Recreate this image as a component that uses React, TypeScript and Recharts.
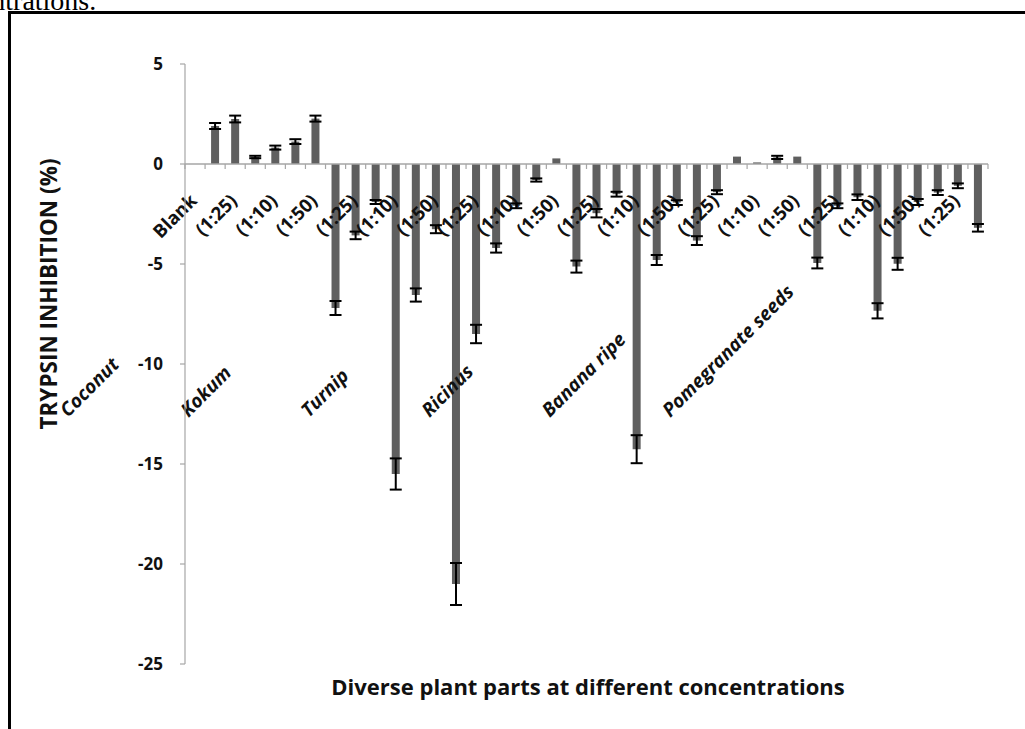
import React from 'react';
import { BarChart, Bar, XAxis, YAxis, ErrorBar, ReferenceLine } from 'recharts';

// Category tick labels (only every second category carries a label in the reference)
const categories: string[] = [
  'Blank', '', '(1:25)', '', '(1:10)', '', '(1:50)', '', '(1:25)', '',
  '(1:10)', '', '(1:50)', '', '(1:25)', '', '(1:10)', '', '(1:50)', '',
  '(1:25)', '', '(1:10)', '', '(1:50)', '', '(1:25)', '', '(1:10)', '',
  '(1:50)', '', '(1:25)', '', '(1:10)', '', '(1:50)', '', '(1:25)', '',
];

// Plant group names and the category each one is hung from
const groupNames: string[] = ['Coconut', 'Kokum', 'Turnip', 'Ricinus', 'Banana ripe', 'Pomegranate seeds'];
const groupAnchors: number[] = [0, 6, 12, 18, 24, 30];

// Trypsin inhibition (%) per category
const values: (number | null)[] = [
  null, 1.9, 2.25, 0.35, 0.82, 1.12, 2.27, -7.2, -3.57, -1.9,
  -15.5, -6.55, -3.26, -21.0, -8.5, -4.2, -2.09, -0.8, 0.28, -5.13,
  -2.46, -1.51, -14.26, -4.8, -1.93, -3.83, -1.41, 0.37, 0.08, 0.33,
  0.37, -4.95, -2.09, -1.66, -7.34, -4.99, -1.9, -1.43, -1.09, -3.19,
];

// Error (±) per category
const errors: number[] = [
  0, 0.15, 0.17, 0.06, 0.1, 0.12, 0.15, 0.35, 0.19, 0.1,
  0.78, 0.33, 0.2, 1.05, 0.46, 0.23, 0.12, 0.08, 0, 0.3,
  0.21, 0.12, 0.7, 0.25, 0.12, 0.22, 0.1, 0, 0, 0.08,
  0, 0.27, 0.12, 0.14, 0.38, 0.3, 0.15, 0.12, 0.12, 0.19,
];

const yTicks: number[] = [-25, -20, -15, -10, -5, 0, 5];

const data = categories.map((c, i) => ({
  key: `c${i}`,
  label: c,
  value: values[i],
  err: errors[i],
}));

const FONT = '"Open Sans", "Noto Sans", sans-serif';

const AxisLabels = (props: any) => {
  const vb = props.viewBox || {};
  const x0 = vb.x ?? 0;
  const w = vb.width ?? 0;
  const y0 = vb.y ?? 0;
  const band = w / categories.length;
  const ticks: React.ReactNode[] = [];
  for (let i = 0; i <= categories.length; i++) {
    const tx = x0 + i * band;
    ticks.push(<line key={`t${i}`} x1={tx} x2={tx} y1={y0} y2={y0 + 5} stroke="#a6a6a6" strokeWidth={1.2} />);
  }
  const labels = categories.map((c, i) => {
    if (!c) return null;
    const lx = x0 + (i + 0.5) * band + 3;
    const ly = y0 + 38;
    return (
      <text key={`l${i}`} x={lx} y={ly} textAnchor="end" transform={`rotate(-45 ${lx} ${ly})`}
        fontFamily={FONT} fontWeight={700} fontSize={18.5} fill="#111">{c}</text>
    );
  });
  const groups = groupNames.map((g, k) => {
    const gx = x0 + (groupAnchors[k] + 0.5) * band - 127;
    const gy = y0 + 254;
    return (
      <text key={`g${k}`} x={gx} y={gy} textAnchor="start" transform={`rotate(-45 ${gx} ${gy})`}
        fontFamily={FONT} fontWeight={700} fontStyle="italic" fontSize={19} fill="#111">{g}</text>
    );
  });
  return <g>{ticks}{labels}{groups}</g>;
};

const YTitle = (props: any) => {
  const vb = props.viewBox || {};
  const tx = (vb.x ?? 0) - 68;
  const ty = (vb.y ?? 0) + (vb.height ?? 0) / 2 - 70;
  return (
    <text x={tx} y={ty} textAnchor="middle" transform={`rotate(-90 ${tx} ${ty})`}
      fontFamily={FONT} fontWeight={700} fontSize={22.5} fill="#111">TRYPSIN INHIBITION (%)</text>
  );
};

export default function App() {
  return (
    <div style={{ position: 'fixed', left: 0, top: 0, width: 1025, height: 729, overflow: 'hidden', background: '#fff' }}>
      <div style={{ position: 'absolute', left: -74, top: -13, fontFamily: '"Liberation Serif", serif', fontSize: 28, lineHeight: '28px', whiteSpace: 'nowrap', color: '#000' }}>
        concentrations.
      </div>
      <div style={{ position: 'absolute', left: 8, top: 11, width: 1100, height: 800, borderLeft: '3px solid #000', borderTop: '3px solid #000' }} />
      <div style={{ position: 'absolute', left: 0, top: 0 }}>
        <BarChart width={1025} height={729} data={data} margin={{ top: 64, right: 37, bottom: 65, left: 125 }}>
          <XAxis dataKey="key" hide />
          <YAxis
            width={60}
            domain={[-25, 5]}
            ticks={yTicks}
            interval={0}
            axisLine={{ stroke: '#a6a6a6', strokeWidth: 1.2 }}
            tickLine={{ stroke: '#a6a6a6', strokeWidth: 1.2 }}
            tickSize={5}
            tickMargin={17}
            tick={{ fontFamily: FONT, fontWeight: 700, fontSize: 17, fill: '#111' }}
            label={YTitle}
          />
          <ReferenceLine y={0} stroke="#a6a6a6" strokeWidth={1.5} label={AxisLabels} />
          <Bar dataKey="value" fill="#5f5f5f" barSize={8} isAnimationActive={false}>
            <ErrorBar dataKey="err" width={6} strokeWidth={2} stroke="#000" direction="y" isAnimationActive={false} />
          </Bar>
        </BarChart>
      </div>
      <div style={{ position: 'absolute', left: 588, top: 673, transform: 'translateX(-50%)', fontFamily: FONT, fontWeight: 700, fontSize: 22, whiteSpace: 'nowrap', color: '#111', lineHeight: '26px' }}>
        Diverse plant parts at different concentrations
      </div>
    </div>
  );
}
